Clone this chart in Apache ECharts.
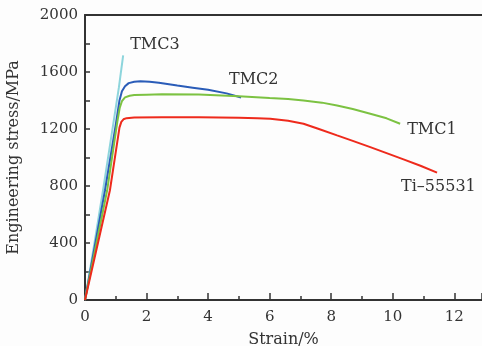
<!DOCTYPE html>
<html>
<head>
<meta charset="utf-8">
<script src="https://cdn.jsdelivr.net/npm/echarts@6/dist/echarts.min.js"></script>
<style>
  html, body { margin: 0; padding: 0; background: #fdfdfd; }
  #chart { width: 482px; height: 346px; }
</style>
</head>
<body>
<div id="chart"></div>
<script>
// ─── Data (strain %, stress MPa) ───
const tmc3 = [[0, 0], [0.3, 390], [0.6, 790], [0.9, 1210], [1.1, 1490], [1.24, 1716]];
const tmc2 = [[0, 0], [0.65, 770], [1.0, 1230], [1.12, 1400], [1.2, 1465], [1.3, 1500], [1.42, 1522],
  [1.6, 1532], [1.8, 1535], [2.1, 1532], [2.4, 1525], [3.0, 1505], [3.5, 1490], [4.0, 1475],
  [4.6, 1450], [5.07, 1421]];
const tmc1 = [[0, 0], [0.72, 770], [1.05, 1250], [1.13, 1350], [1.2, 1395], [1.3, 1422], [1.45, 1433],
  [1.6, 1438], [2.0, 1441], [2.5, 1443], [3.7, 1442], [5.0, 1430], [6.0, 1417], [6.6, 1410],
  [7.1, 1400], [7.7, 1385], [8.19, 1365], [8.7, 1340], [9.27, 1307], [9.8, 1275], [10.24, 1237]];
const ti55531 = [[0, 0], [0.81, 770], [1.12, 1210], [1.18, 1250], [1.25, 1268], [1.35, 1276],
  [1.6, 1281], [2.5, 1283], [3.7, 1283], [5.0, 1279], [5.6, 1276], [6.02, 1272], [6.6, 1258],
  [7.1, 1237], [7.6, 1200], [8.19, 1155], [8.7, 1117], [9.27, 1073], [9.8, 1031], [10.35, 987],
  [10.9, 942], [11.44, 894]];

const SERIES = [
  { name: "TMC3", data: tmc3, color: "#8dd5dc", offset: [7, -11] },
  { name: "TMC2", data: tmc2, color: "#2a5cb8", offset: [-12, -18] },
  { name: "TMC1", data: tmc1, color: "#7cc242", offset: [7, 6] },
  { name: "Ti\u201355531", data: ti55531, color: "#ee2a1c", offset: [-36, 14] },
];

const FONT = "'DejaVu Serif', 'Liberation Serif', serif";
const AXIS_COLOR = "#333";

const chart = echarts.init(document.getElementById("chart"), null, { renderer: "canvas" });

chart.setOption({
  animation: false,
  backgroundColor: "#fdfdfd",
  grid: { left: 85, right: 0, top: 15, bottom: 46, outerBoundsMode: "none", containLabel: false },
  xAxis: [
    {
      type: "value",
      min: 0,
      max: 12.9,
      interval: 2,
      name: "Strain/%",
      nameLocation: "middle",
      nameGap: 32,
      nameTextStyle: { fontFamily: FONT, fontSize: 16, color: "#333" },
      axisLine: { onZero: false, lineStyle: { color: AXIS_COLOR, width: 2 } },
      axisTick: { inside: true, length: 7, lineStyle: { color: AXIS_COLOR, width: 1.5 } },
      minorTick: { show: true, splitNumber: 2, length: 4, lineStyle: { color: AXIS_COLOR, width: 1.5 } },
      axisLabel: { fontFamily: FONT, fontSize: 15, color: "#333", margin: 10, showMaxLabel: false },
      splitLine: { show: false },
    },
    {
      type: "value",
      position: "top",
      min: 0,
      max: 12.9,
      axisLine: { show: true, onZero: false, lineStyle: { color: AXIS_COLOR, width: 2 } },
      axisTick: { show: false },
      axisLabel: { show: false },
      splitLine: { show: false },
    },
  ],
  yAxis: {
    type: "value",
    min: 0,
    max: 2000,
    interval: 400,
    name: "Engineering stress/MPa",
    nameLocation: "middle",
    nameGap: 63,
    nameTextStyle: { fontFamily: FONT, fontSize: 16, color: "#333" },
    axisLine: { show: true, onZero: false, lineStyle: { color: AXIS_COLOR, width: 2 } },
    axisTick: { inside: true, length: 5, lineStyle: { color: AXIS_COLOR, width: 1.5 } },
    minorTick: { show: true, splitNumber: 2, length: 5, lineStyle: { color: AXIS_COLOR, width: 1.5 } },
    axisLabel: { fontFamily: FONT, fontSize: 15, color: "#333", margin: 7, formatter: (v) => String(v) },
    splitLine: { show: false },
  },
  series: SERIES.map((s) => ({
    type: "line",
    name: s.name,
    data: s.data,
    xAxisIndex: 0,
    showSymbol: false,
    smooth: false,
    lineStyle: { color: s.color, width: 2 },
    itemStyle: { color: s.color },
    endLabel: {
      show: true,
      formatter: s.name,
      fontFamily: FONT,
      fontSize: 16,
      color: "#333",
      align: "left",
      verticalAlign: "middle",
      offset: s.offset,
      distance: 0,
    },
  })),
});
</script>
</body>
</html>
